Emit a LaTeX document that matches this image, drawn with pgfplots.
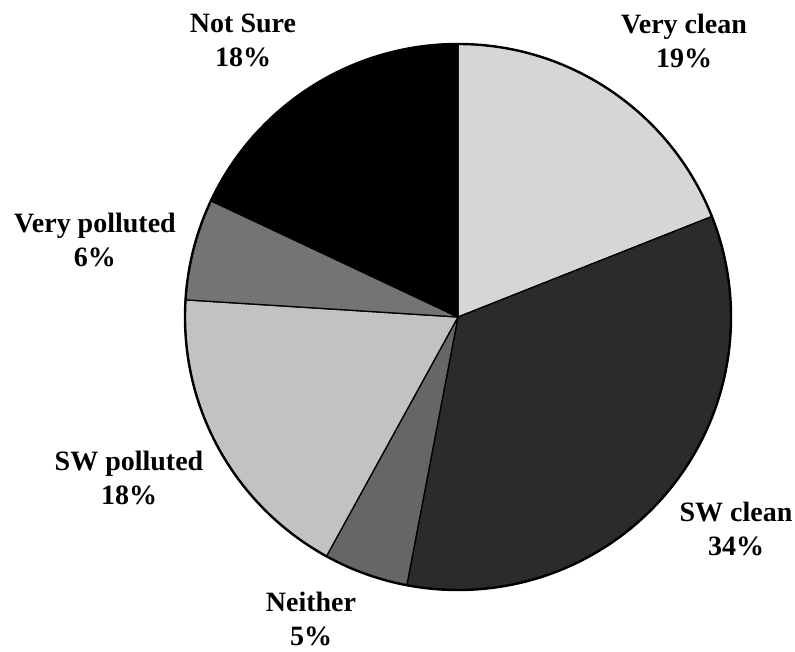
\documentclass[border=0pt]{standalone}
\usepackage{fontspec}
\setmainfont{Liberation Serif}
\usepackage{pgfplots}
\usepackage{pgfplotstable}
\pgfplotsset{compat=1.18}

% slice shades, clockwise from 12 o'clock
\definecolor{slice0}{HTML}{D6D6D6}
\definecolor{slice1}{HTML}{2B2B2B}
\definecolor{slice2}{HTML}{666666}
\definecolor{slice3}{HTML}{C2C2C2}
\definecolor{slice4}{HTML}{747474}
\definecolor{slice5}{HTML}{000000}

\pgfplotstableread[col sep=comma]{
label,pct,lx,ly
Very clean,19,684,41
SW clean,34,736,529
Neither,5,311,619
SW polluted,18,129,478
Very polluted,6,95,240
Not Sure,18,243,40
}\piedata

\newcommand{\labelfont}{\fontsize{28}{34}\selectfont\bfseries}

\begin{document}
\begin{tikzpicture}
\begin{axis}[scale only axis, width=795pt, height=652pt,
  xmin=0, xmax=795, ymin=0, ymax=652, y dir=reverse,
  hide axis, clip=false]
\path (axis cs:0,0) rectangle (axis cs:795,652);
\pgfplotstablegetrowsof{\piedata}
\pgfmathtruncatemacro\nrows{\pgfplotsretval-1}
\def\cum{0}
\pgfplotsforeachungrouped \i in {0,...,\nrows}{
  \pgfplotstablegetelem{\i}{pct}\of\piedata \let\pct\pgfplotsretval
  \pgfplotstablegetelem{\i}{label}\of\piedata \let\lab\pgfplotsretval
  \pgfplotstablegetelem{\i}{lx}\of\piedata \let\lx\pgfplotsretval
  \pgfplotstablegetelem{\i}{ly}\of\piedata \let\ly\pgfplotsretval
  \pgfmathsetmacro\astart{90-3.6*\cum}
  \pgfmathsetmacro\aend{90-3.6*(\cum+\pct)}
  \edef\temp{\noexpand\filldraw[fill=slice\i, draw=black, line width=1.3pt, line join=round]
    (axis cs:458,317) -- ++(\astart:273pt) arc[start angle=\astart, end angle=\aend, radius=273pt] -- cycle;
    \noexpand\node[align=center, inner sep=0pt, font=\noexpand\labelfont]
    at (axis cs:\lx,\ly) {\lab\noexpand\\\pct\noexpand\%};}
  \temp
  \pgfmathsetmacro\cum{\cum+\pct}
}
\draw[line width=2.4pt] (axis cs:458,317) circle[radius=273pt];
\end{axis}
\end{tikzpicture}
\end{document}
